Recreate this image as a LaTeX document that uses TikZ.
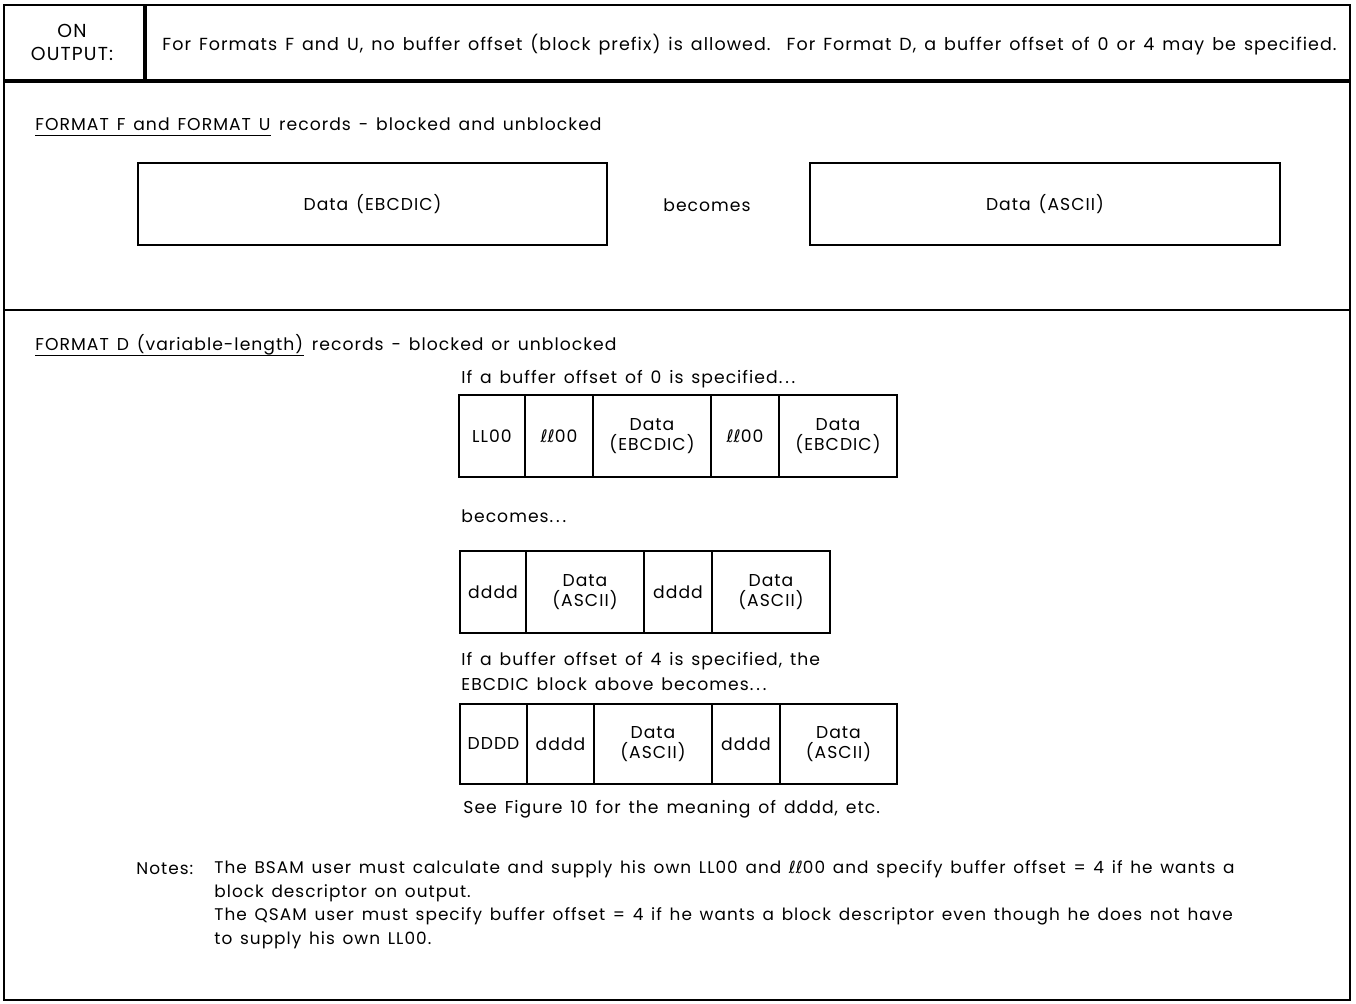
\documentclass[tikz,border=0pt]{standalone}
\usepackage{fontspec}
\setmainfont[LetterSpace=6,WordSpace=1.4]{Poppins}
\usetikzlibrary{calc}
\newcommand\dblell{{\fontspec{DejaVu Sans}ℓℓ}}
\newcommand\spdots{.\,.\,.}
\begin{document}
\begin{tikzpicture}[x={(0.5pt,0)},y={(0,-0.5pt)},
  every node/.style={font=\fontsize{8.6}{10}\selectfont},
  frame/.style={line width=1pt},
  heavy/.style={line width=2pt},
  cell/.style={draw,line width=1pt,inner sep=0pt,align=center,minimum height=41pt},
  bigbox/.style={draw,line width=1pt,inner sep=0pt,minimum height=41pt},
  txt/.style={anchor=mid west,inner sep=0pt},
  notetxt/.style={txt,font=\fontsize{8.45}{10}\selectfont},
  uline/.style={line width=0.7pt}]
\useasboundingbox (0,0) rectangle (1356,1004);
% outer frame and section rules
\draw[frame] (4,5) rectangle (1350,1000);
\draw[heavy] (4,81) -- (1350,81);
\draw[heavy] (145,5) -- (145,81);
\draw[frame] (4,310) -- (1350,310);
% header
\node[align=center,inner sep=0pt,font=\fontsize{9.4}{11.5}\selectfont] (on) at (72,42) {ON\\OUTPUT:};
\node[txt,font=\fontsize{8.75}{10}\selectfont] (hdr) at (162,45) {For Formats F and U, no buffer offset (block prefix) is allowed.\ \ For Format D, a buffer offset of 0 or 4 may be specified.};
% format F / U
\node[txt] (t1a) at (35,125) {FORMAT F and FORMAT U};
\node[anchor=base west,inner sep=0pt] (t1b) at (t1a.base east) {\ records - blocked and unblocked};
\draw[uline] ($(t1a.base west)+(0,5)$) -- ($(t1a.base east)+(0,5)$);
\node[bigbox,minimum width=234.5pt] (ebc) at (372.5,204) {Data (EBCDIC)};
\node (bec) at (707,205) {becomes};
\node[bigbox,minimum width=235pt] (asc) at (1045,204) {Data (ASCII)};
% format D
\node[txt] (t2a) at (35,345) {FORMAT D (variable-length)};
\node[anchor=base west,inner sep=0pt] (t2b) at (t2a.base east) {\ records - blocked or unblocked};
\draw[uline] ($(t2a.base west)+(0,5)$) -- ($(t2a.base east)+(0,5)$);
\node[txt] (off0) at (461,378) {If a buffer offset of 0 is specified\spdots};
% EBCDIC block
\node[cell,minimum width=33pt] (e1) at (492,436) {LL00};
\node[cell,minimum width=34pt] (e2) at (559,436) {\dblell00};
\node[cell,minimum width=59pt] (e3) at (652,436) {Data\\(EBCDIC)};
\node[cell,minimum width=34pt] (e4) at (745,436) {\dblell00};
\node[cell,minimum width=59pt] (e5) at (838,436) {Data\\(EBCDIC)};
\node[txt] (bec2) at (461,517) {becomes\spdots};
% ASCII block, offset 0
\node[cell,minimum width=33pt] (a1) at (493,592) {dddd};
\node[cell,minimum width=59pt] (a2) at (585,592) {Data\\(ASCII)};
\node[cell,minimum width=34pt] (a3) at (678,592) {dddd};
\node[cell,minimum width=59pt] (a4) at (771,592) {Data\\(ASCII)};
\node[txt,align=left,font=\fontsize{8.6}{12.5}\selectfont] (off4) at (461,685) {If a buffer offset of 4 is specified, the\\EBCDIC block above becomes\spdots};
% ASCII block, offset 4
\node[cell,minimum width=33.5pt,minimum height=40pt] (b1) at (493.5,744) {DDDD};
\node[cell,minimum width=33.5pt,minimum height=40pt] (b2) at (560.5,744) {dddd};
\node[cell,minimum width=59pt,minimum height=40pt] (b3) at (653,744) {Data\\(ASCII)};
\node[cell,minimum width=34pt,minimum height=40pt] (b4) at (746,744) {dddd};
\node[cell,minimum width=58.5pt,minimum height=40pt] (b5) at (838.5,744) {Data\\(ASCII)};
\node[txt] (see) at (463,808) {See Figure 10 for the meaning of dddd, etc.};
% notes
\node[notetxt] (nt) at (136,869) {Notes:};
\node[notetxt] (n1) at (214,868) {The BSAM user must calculate and supply his own LL00 and \dblell00 and specify buffer offset = 4 if he wants a};
\node[notetxt] (n2) at (214,892) {block descriptor on output.};
\node[notetxt] (n3) at (214,915) {The QSAM user must specify buffer offset = 4 if he wants a block descriptor even though he does not have};
\node[notetxt] (n4) at (214,939) {to supply his own LL00.};
\end{tikzpicture}
\end{document}
